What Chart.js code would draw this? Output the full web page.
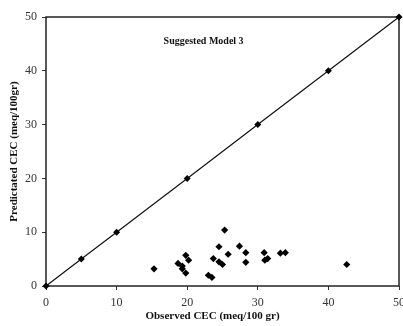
<!DOCTYPE html>
<html>
<head>
<meta charset="utf-8">
<script src="https://cdn.jsdelivr.net/npm/chart.js@4"></script>
<style>
html,body{margin:0;padding:0;background:#fff;}
#wrap{width:403px;height:326px;position:relative;}
</style>
</head>
<body>
<div id="wrap"><canvas id="c" width="403" height="326"></canvas></div>
<script>
// Data
const observedCEC = [15.3, 18.7, 19.3, 19.3, 19.8, 20.2, 19.8, 23.0, 23.5, 23.7, 24.5, 24.5, 25.0, 25.3, 25.8, 27.4, 28.3, 28.3, 30.9, 31.0, 31.4, 33.2, 33.9, 42.6];
const predictedCEC = [3.2, 4.2, 3.7, 3.2, 5.7, 4.8, 2.4, 2.0, 1.6, 5.1, 7.3, 4.5, 4.0, 10.4, 5.9, 7.4, 6.2, 4.4, 6.2, 4.8, 5.1, 6.1, 6.2, 4.0];
const lineX = [0, 5, 10, 20, 30, 40, 50];
const lineY = [0, 5, 10, 20, 30, 40, 50];
const axisTicks = [0, 10, 20, 30, 40, 50];
const chartTitle = 'Suggested Model 3';
const xTitle = 'Observed CEC (meq/100 gr)';
const yTitle = 'Predictated CEC (meq/100gr)';

const serif = '"Liberation Serif", "Times New Roman", serif';

const framePlugin = {
  id: 'frame',
  beforeDatasetsDraw(chart) {
    const {ctx, chartArea: a} = chart;
    ctx.save();
    ctx.strokeStyle = '#222';
    ctx.lineWidth = 1.5;
    ctx.strokeRect(a.left, a.top, a.right - a.left, a.bottom - a.top);
    ctx.restore();
  },
  afterDraw(chart) {
    const {ctx, chartArea: a} = chart;
    ctx.save();
    ctx.fillStyle = '#111';
    ctx.textAlign = 'center';
    ctx.textBaseline = 'middle';
    ctx.font = 'bold 10px ' + serif;
    ctx.fillText(chartTitle, a.left + (a.right - a.left) * 0.4465, a.top + 24);
    ctx.font = 'bold 11px ' + serif;
    ctx.fillText(xTitle, (a.left + a.right) / 2 - 10, 316);
    ctx.restore();
  }
};

const scatterPts = observedCEC.map((x, i) => ({x: x, y: predictedCEC[i]}));
const linePts = lineX.map((x, i) => ({x: x, y: lineY[i]}));

new Chart(document.getElementById('c'), {
  type: 'scatter',
  data: {
    datasets: [
      {
        label: '1:1',
        data: linePts,
        showLine: true,
        borderColor: '#111',
        borderWidth: 1.2,
        backgroundColor: '#000',
        pointStyle: 'rectRot',
        pointRadius: 3.5,
        pointBorderWidth: 0,
        clip: false
      },
      {
        label: 'Suggested Model 3',
        data: scatterPts,
        showLine: false,
        backgroundColor: '#000',
        borderColor: '#000',
        pointStyle: 'rectRot',
        pointRadius: 3.6,
        pointBorderWidth: 0,
        clip: false
      }
    ]
  },
  plugins: [framePlugin],
  options: {
    responsive: false,
    animation: false,
    devicePixelRatio: 1,
    layout: {padding: {top: 17, right: 2, left: 0, bottom: 0}},
    plugins: {legend: {display: false}, tooltip: {enabled: false}},
    scales: {
      x: {
        type: 'linear',
        min: 0, max: 50,
        afterBuildTicks(scale) { scale.ticks = axisTicks.map(v => ({value: v})); },
        afterFit(scale) { scale.height = 40; scale.paddingLeft = 0; scale.paddingRight = 0; },
        border: {display: false},
        grid: {display: true, drawOnChartArea: false, drawTicks: true, tickLength: 4, tickColor: '#333', lineWidth: 1},
        ticks: {color: '#333', padding: 6, font: {family: serif, size: 12}, maxRotation: 0}
      },
      y: {
        type: 'linear',
        min: 0, max: 50,
        afterBuildTicks(scale) { scale.ticks = axisTicks.map(v => ({value: v})); },
        afterFit(scale) { scale.width = 46; scale.paddingTop = 0; scale.paddingBottom = 0; },
        border: {display: false},
        grid: {display: true, drawOnChartArea: false, drawTicks: true, tickLength: 4, tickColor: '#333', lineWidth: 1},
        ticks: {color: '#333', padding: 5, font: {family: serif, size: 12}},
        title: {display: true, text: yTitle, color: '#111', font: {family: serif, size: 11, weight: 'bold'}, padding: {top: 8, bottom: 0}}
      }
    }
  }
});
</script>
</body>
</html>
